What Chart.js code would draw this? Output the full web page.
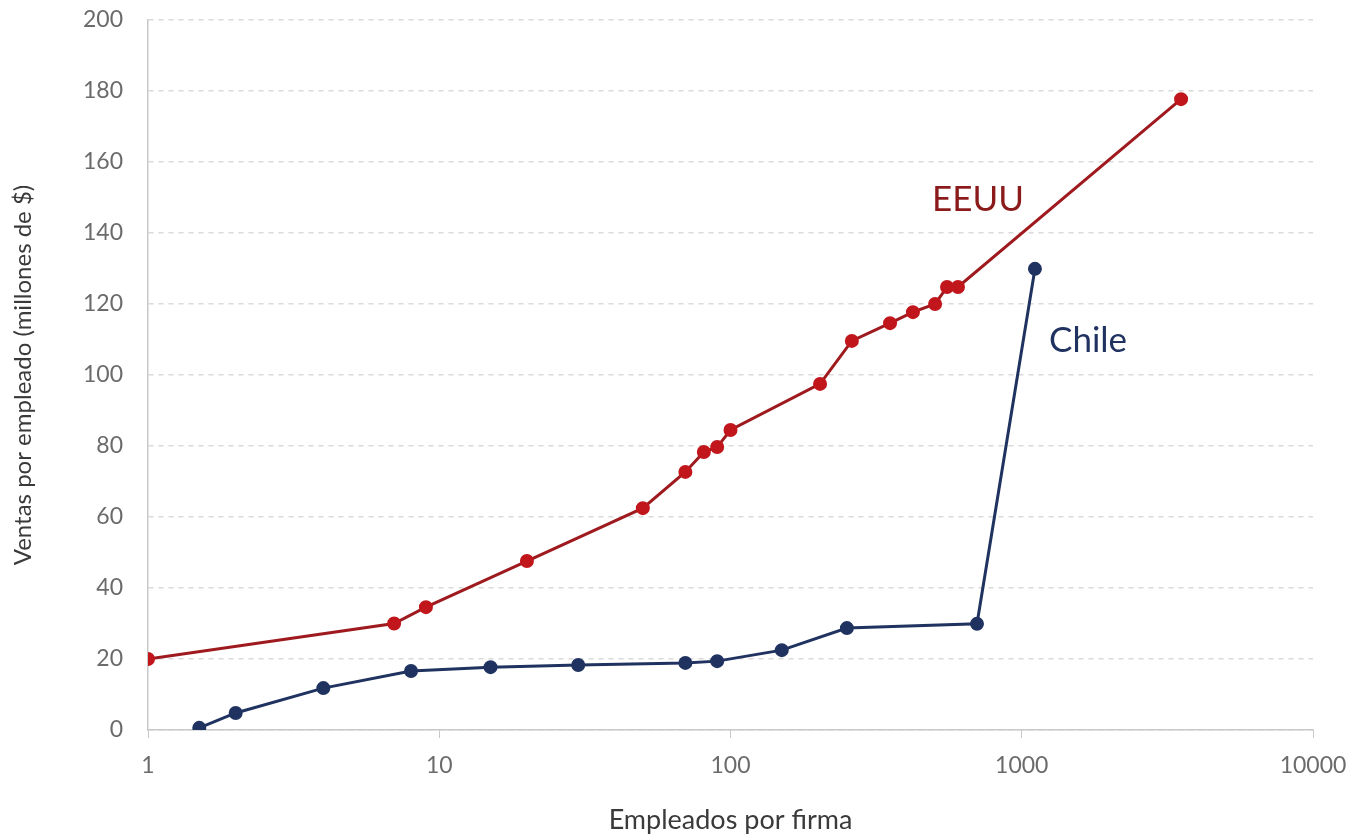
<!DOCTYPE html>
<html>
<head>
<meta charset="utf-8">
<script src="https://cdn.jsdelivr.net/npm/chart.js@4"></script>
<style>
  html, body { margin: 0; padding: 0; background: #ffffff; }
  #wrap { width: 1357px; height: 840px; }
</style>
</head>
<body>
<div id="wrap"><canvas id="c" width="1357" height="840"></canvas></div>
<script>
// ---- data ----
const usEmployees   = [1, 7, 9, 20, 50, 70, 81, 90, 100, 203, 261, 353, 423, 504, 554, 604, 3524];
const usSales       = [20, 30, 34.6, 47.6, 62.5, 72.7, 78.3, 79.7, 84.5, 97.5, 109.6, 114.6, 117.7, 120, 124.8, 124.8, 177.7];
const chileEmployees = [1.5, 2, 4, 8, 15, 30, 70, 90, 150, 251, 702, 1110];
const chileSales     = [0.6, 4.8, 11.8, 16.6, 17.7, 18.3, 18.9, 19.4, 22.5, 28.7, 29.9, 129.9];
const xTicks = [1, 10, 100, 1000, 10000];
const seriesNames = ['EEUU', 'Chile'];
const labelX = [708, 1689];
const labelY = [149.3, 109.6];
const xTitle = 'Empleados por firma';
const yTitle = 'Ventas por empleado (millones de $)';

const usLine = '#9e1a1e', usMarker = '#c0161c';
const chLine = '#1f3260', chMarker = '#1f3260';

const toPts = (xs, ys) => xs.map((x, i) => ({ x: x, y: ys[i] }));

const labelPlugin = {
  id: 'seriesLabels',
  afterDatasetsDraw(chart) {
    const { ctx, scales } = chart;
    const colors = ['#8b1a1a', '#1f3260'];
    ctx.save();
    ctx.font = '35px Lato, "Open Sans", sans-serif';
    ctx.textAlign = 'center';
    ctx.textBaseline = 'middle';
    seriesNames.forEach((n, i) => {
      ctx.fillStyle = colors[i];
      ctx.fillText(n, scales.x.getPixelForValue(labelX[i]), scales.y.getPixelForValue(labelY[i]));
    });
    ctx.restore();
  }
};

new Chart(document.getElementById('c'), {
  type: 'scatter',
  data: {
    datasets: [
      {
        label: seriesNames[0],
        data: toPts(usEmployees, usSales),
        showLine: true,
        borderColor: usLine,
        backgroundColor: usMarker,
        pointBorderColor: usMarker,
        pointBackgroundColor: usMarker,
        borderWidth: 3,
        pointRadius: 5.5,
        pointHoverRadius: 5.5
      },
      {
        label: seriesNames[1],
        data: toPts(chileEmployees, chileSales),
        showLine: true,
        borderColor: chLine,
        backgroundColor: chMarker,
        pointBorderColor: chMarker,
        pointBackgroundColor: chMarker,
        borderWidth: 3,
        pointRadius: 5.5,
        pointHoverRadius: 5.5
      }
    ]
  },
  options: {
    responsive: false,
    animation: false,
    devicePixelRatio: 1,
    layout: { padding: { left: 0, right: 44, top: 20, bottom: 0 } },
    plugins: { legend: { display: false }, tooltip: { enabled: false } },
    scales: {
      x: {
        type: 'logarithmic',
        min: 1,
        max: 10000,
        afterBuildTicks: (s) => { s.ticks = xTicks.map(v => ({ value: v })); },
        afterFit: (s) => { s.height = 110; s.paddingLeft = 0; s.paddingRight = 0; },
        ticks: {
          callback: (v) => String(v),
          color: '#6b6b6b',
          font: { family: 'Lato, "Open Sans", sans-serif', size: 23 },
          padding: 14,
          maxRotation: 0,
          autoSkip: false
        },
        grid: { drawOnChartArea: false, drawTicks: true, tickLength: 8, color: '#c8c8c8' },
        border: { display: true, color: '#c8c8c8', width: 1.5 },
        title: {
          display: true,
          text: xTitle,
          color: '#3a3a3a',
          font: { family: 'Lato, "Open Sans", sans-serif', size: 27 },
          padding: { top: 0, bottom: 4 }
        }
      },
      y: {
        min: 0,
        max: 200,
        afterFit: (s) => { s.width = 148; s.paddingTop = 0; s.paddingBottom = 0; },
        ticks: {
          stepSize: 20,
          color: '#6b6b6b',
          font: { family: 'Lato, "Open Sans", sans-serif', size: 23 },
          padding: 25
        },
        grid: { drawTicks: false, color: '#dadada', lineWidth: 1.5 },
        border: { display: true, color: '#c8c8c8', width: 1.5, dash: [5, 5] },
        title: {
          display: true,
          text: yTitle,
          color: '#3a3a3a',
          font: { family: 'Lato, "Open Sans", sans-serif', size: 24 },
          padding: { top: 9, bottom: 0 }
        }
      }
    }
  },
  plugins: [labelPlugin]
});
</script>
</body>
</html>
